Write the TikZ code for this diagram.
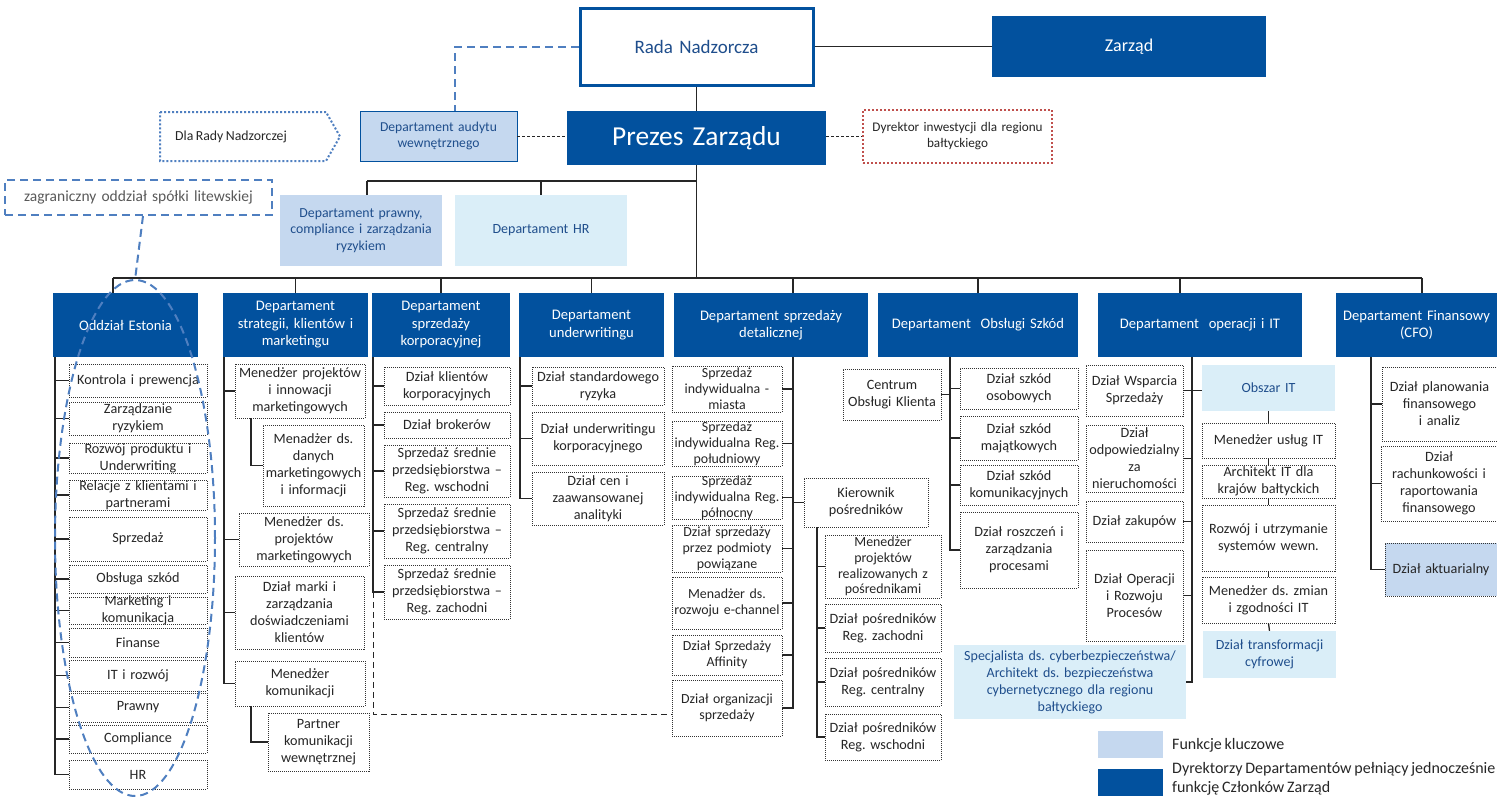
\documentclass[tikz,border=0pt]{standalone}
\usepackage{fontspec}
\setmainfont{Carlito}[WordSpace=0.78]
\frenchspacing
\definecolor{dblue}{HTML}{02519E}
\definecolor{kblue}{HTML}{C5D8EF}
\definecolor{cblue}{HTML}{DAEEF8}
\definecolor{tblue}{HTML}{1F4E8C}
\definecolor{dashblue}{HTML}{4F7FC0}
\definecolor{dotred}{HTML}{C0504D}
\newcommand\bx[7]{%
 \pgfmathsetmacro\bxw{#5-#3}\pgfmathsetmacro\bxh{#6-#4}%
 \pgfmathsetmacro\bxx{(#3+#5)/2}\pgfmathsetmacro\bxy{(#4+#6)/2}%
 \pgfmathsetmacro\bxt{#5-#3-2}%
 \node[#1, minimum width=\bxw pt, minimum height=\bxh pt] (#2) at (\bxx,\bxy) {};
 \node[#1, draw=none, fill=none, text width=\bxt pt] (#2t) at (#2.center) {#7};}
\tikzset{
 base/.style={inner sep=0pt, align=center},
 dept/.style={base, fill=dblue, text=white, font=\fontsize{14.6}{17.5}\selectfont},
 subbox/.style={base, draw=black!80, line width=0.9pt, dash pattern=on 1pt off 1pt, fill=white, text=black!85, font=\fontsize{14.2}{17}\selectfont},
 subsm/.style={subbox, font=\fontsize{13.9}{15.8}\selectfont},
 keybox/.style={base, fill=kblue, text=tblue, font=\fontsize{13.8}{16.5}\selectfont},
 cyanbox/.style={base, fill=cblue, text=tblue, font=\fontsize{14}{17}\selectfont},
 conn/.style={draw=black!85, line width=1.3pt},
 blkdash/.style={draw=black!85, line width=1pt, dash pattern=on 3pt off 2pt},
 bluedash/.style={draw=dashblue, line width=2pt, dash pattern=on 8pt off 5pt},
 bluedot/.style={draw=dashblue, line width=2pt, dash pattern=on 2pt off 2pt},
 reddot/.style={draw=dotred, line width=2pt, dash pattern=on 2pt off 2pt},
}
\begin{document}
\begin{tikzpicture}[x=1pt,y=-1pt]
\useasboundingbox (0,0) rectangle (1497,796);
% ---------- top ----------
\bx{base, draw=dblue, line width=3pt, fill=white, text=tblue, font=\fontsize{19}{22}\selectfont}{rada}{580}{8}{813}{85}{Rada Nadzorcza}
\bx{dept, font=\fontsize{18}{21}\selectfont}{zarzad}{992}{16}{1266}{77}{Zarząd}
\bx{dept, font=\fontsize{27.4}{32}\selectfont}{prezes}{567}{111}{826}{165}{Prezes Zarządu}
\bx{keybox, draw=dblue, line width=0.9pt, font=\fontsize{13.6}{16.5}\selectfont}{audyt}{360}{111}{517}{161}{Departament audytu\\wewnętrznego}
\bx{base, reddot, fill=white, text=black!85, font=\fontsize{13.2}{16}\selectfont}{dyr}{863}{110}{1052}{163}{Dyrektor inwestycji dla regionu\\bałtyckiego}
\bx{keybox}{prawny}{280}{195}{442}{266}{Departament prawny,\\compliance i zarządzania\\ryzykiem}
\bx{cyanbox}{hr}{455}{195}{627}{266}{Departament HR}
\bx{base, bluedash, text=black!65, font=\fontsize{15.5}{18}\selectfont}{zagr}{5}{180}{272}{215}{zagraniczny oddział spółki litewskiej}
\draw[bluedot] (160,112) -- (326,112) -- (340,136.5) -- (326,161) -- (160,161) -- cycle;
\node[inner sep=0pt, text=black!85, font=\fontsize{13.8}{16}\selectfont] (dla) at (231,136.5) {Dla Rady Nadzorczej};
% ---------- departments ----------
\bx{dept}{oe}{53}{293}{198}{357}{Oddział Estonia}
\bx{dept}{st}{223}{293}{368}{357}{Departament\\strategii, klientów i\\marketingu}
\bx{dept}{ko}{372}{293}{510}{357}{Departament\\sprzedaży\\korporacyjnej}
\bx{dept}{un}{519}{293}{664}{357}{Departament\\underwritingu}
\bx{dept}{de}{674}{293}{868}{357}{Departament sprzedaży\\detalicznej}
\bx{dept}{os}{878}{293}{1078}{357}{Departament~~Obsługi Szkód}
\bx{dept}{op}{1098}{293}{1302}{357}{Departament~~operacji i IT}
\bx{dept}{fi}{1336}{293}{1497}{357}{Departament Finansowy\\(CFO)}
% ---------- Oddzial Estonia ----------
\bx{subbox}{e1}{69}{364}{207}{397}{Kontrola i prewencja}
\bx{subbox}{e2}{69}{402}{207}{435}{Zarządzanie\\ryzykiem}
\bx{subbox}{e3}{69}{443}{207}{473}{Rozwój produktu i\\Underwriting}
\bx{subbox}{e4}{69}{480}{207}{510}{Relacje z klientami i\\partnerami}
\bx{subbox}{e5}{69}{517}{207}{561}{Sprzedaż}
\bx{subbox}{e6}{69}{565}{207}{593}{Obsługa szkód}
\bx{subbox}{e7}{69}{597}{207}{624}{Marketing i\\komunikacja}
\bx{subbox}{e8}{69}{628}{207}{657}{Finanse}
\bx{subbox}{e9}{69}{660}{207}{691}{IT i rozwój}
\bx{subbox}{e10}{69}{693}{207}{722}{Prawny}
\bx{subbox}{e11}{69}{725}{207}{753}{Compliance}
\bx{subbox}{e12}{69}{760}{207}{789}{HR}
% ---------- strategii ----------
\bx{subbox}{s1}{235}{364}{365}{418}{Menedżer projektów\\i innowacji\\marketingowych}
\bx{subbox}{s2}{263}{425}{364}{506}{Menadżer ds.\\danych\\marketingowych\\i informacji}
\bx{subbox}{s3}{239}{513}{369}{566}{Menedżer ds.\\projektów\\marketingowych}
\bx{subbox}{s4}{235}{576}{364}{649}{Dział marki i\\zarządzania\\doświadczeniami\\klientów}
\bx{subbox}{s5}{235}{661}{365}{706}{Menedżer\\komunikacji}
\bx{subbox}{s6}{268}{713}{369}{771}{Partner\\komunikacji\\wewnętrznej}
% ---------- korporacyjnej ----------
\bx{subbox}{k1}{384}{367}{510}{405}{Dział klientów\\korporacyjnych}
\bx{subbox}{k2}{384}{412}{510}{438}{Dział brokerów}
\bx{subbox}{k3}{384}{445}{510}{497}{Sprzedaż średnie\\przedsiębiorstwa –\\Reg. wschodni}
\bx{subbox}{k4}{384}{504}{510}{558}{Sprzedaż średnie\\przedsiębiorstwa –\\Reg. centralny}
\bx{subbox}{k5}{384}{565}{510}{619}{Sprzedaż średnie\\przedsiębiorstwa –\\Reg. zachodni}
% ---------- underwriting ----------
\bx{subbox}{u1}{532}{367}{664}{405}{Dział standardowego\\ryzyka}
\bx{subbox}{u2}{532}{412}{664}{465}{Dział underwritingu\\korporacyjnego}
\bx{subbox}{u3}{532}{472}{664}{525}{Dział cen i\\zaawansowanej\\analityki}
% ---------- detalicznej ----------
\bx{subsm}{d1}{672}{366}{782}{412}{Sprzedaż\\indywidualna -\\miasta}
\bx{subsm}{d2}{672}{421}{782}{466}{Sprzedaż\\indywidualna Reg.\\południowy}
\bx{subsm}{d3}{672}{476}{782}{519}{Sprzedaż\\indywidualna Reg.\\północny}
\bx{subsm}{d4}{672}{525}{782}{572}{Dział sprzedaży\\przez podmioty\\powiązane}
\bx{subsm}{d5}{672}{577}{782}{629}{Menadżer ds.\\rozwoju e-channel}
\bx{subsm}{d6}{672}{635}{782}{675}{Dział Sprzedaży\\Affinity}
\bx{subsm}{d7}{672}{680}{782}{736}{Dział organizacji\\sprzedaży}
\bx{subbox}{kp}{804}{478}{928}{527}{Kierownik\\pośredników}
\bx{subsm}{p1}{825}{535}{941}{598}{Menedżer\\projektów\\realizowanych z\\pośrednikami}
\bx{subbox}{p2}{825}{604}{941}{652}{Dział pośredników\\Reg. zachodni}
\bx{subbox}{p3}{825}{658}{941}{706}{Dział pośredników\\Reg. centralny}
\bx{subbox}{p4}{825}{714}{941}{760}{Dział pośredników\\Reg. wschodni}
% ---------- obslugi szkod ----------
\bx{subbox}{cok}{843}{369}{941}{420}{Centrum\\Obsługi Klienta}
\bx{subbox}{o1}{960}{368}{1078}{409}{Dział szkód\\osobowych}
\bx{subbox}{o2}{960}{416}{1078}{460}{Dział szkód\\majątkowych}
\bx{subbox}{o3}{960}{465}{1078}{505}{Dział szkód\\komunikacyjnych}
\bx{subbox}{o4}{960}{512}{1078}{588}{Dział roszczeń i\\zarządzania\\procesami}
% ---------- operacji i IT ----------
\bx{subbox}{w1}{1086}{365}{1183}{416}{Dział Wsparcia\\Sprzedaży}
\bx{subbox}{w2}{1086}{425}{1183}{492}{Dział\\odpowiedzialny\\za\\nieruchomości}
\bx{subbox}{w3}{1086}{501}{1183}{542}{Dział zakupów}
\bx{subbox}{w4}{1086}{550}{1183}{641}{Dział Operacji\\i Rozwoju\\Procesów}
\bx{cyanbox}{spec}{954}{645}{1186}{719}{Specjalista ds. cyberbezpieczeństwa/\\Architekt ds. bezpieczeństwa\\cybernetycznego dla regionu\\bałtyckiego}
\bx{cyanbox}{ob}{1202}{365}{1335}{411}{Obszar IT}
\bx{subbox}{i1}{1202}{423}{1335}{458}{Menedżer usług IT}
\bx{subbox}{i2}{1202}{465}{1335}{498}{Architekt IT dla\\krajów bałtyckich}
\bx{subbox}{i3}{1202}{505}{1335}{571}{Rozwój i utrzymanie\\systemów wewn.}
\bx{subbox}{i4}{1202}{577}{1335}{623}{Menedżer ds. zmian\\i zgodności IT}
\bx{cyanbox}{dt}{1203}{631}{1336}{678}{Dział transformacji\\cyfrowej}
% ---------- finansowy ----------
\bx{subbox}{f1}{1382}{367}{1497}{441}{Dział planowania\\finansowego\\i analiz}
\bx{subbox}{f2}{1381}{446}{1497}{521}{Dział\\rachunkowości i\\raportowania\\finansowego}
\bx{subbox, fill=kblue}{f3}{1385}{543}{1497}{596}{Dział aktuarialny}
% ---------- legend ----------
\bx{base, fill=kblue}{lg1}{1098}{731}{1163}{758}{}
\bx{base, fill=dblue}{lg2}{1098}{769}{1163}{796}{}
\node[anchor=west, inner sep=0pt, text=black!85, font=\fontsize{16}{19}\selectfont] (lt1) at (1172,745) {Funkcje kluczowe};
\node[anchor=west, inner sep=0pt, align=left, text=black!85, font=\fontsize{16}{19}\selectfont] (lt2) at (1172,779) {Dyrektorzy Departamentów pełniący jednocześnie\\funkcję Członków Zarząd};
% ---------- connectors: top ----------
\coordinate (busL) at (113,278);
\coordinate (busR) at (1422,278);
\coordinate (br) at (697,181);
\draw[conn] (rada.east) -- (zarzad.west);
\draw[conn] (rada.south) -- (prezes.north);
\draw[conn] (prezes.south) -- (prezes.south |- busL);
\draw[conn] (busL) -- (busR);
\draw[conn] (367,181) -- (br);
\draw[conn] (prawny.north -| 367,0) -- (367,181);
\draw[conn] (hr.north) -- (hr.north |- br);
\draw[blkdash] (audyt.east) -- (audyt.east -| prezes.west);
\draw[blkdash] (dyr.west -| prezes.east) -- (dyr.west);
\draw[bluedash] (rada.west) -| ([xshift=16.5pt]audyt.north);
% department drops
\draw[conn] (busL) -- (busL |- oe.north);
\draw[conn] (st.north) -- (st.north |- busL);
\draw[conn] (ko.north) -- (ko.north |- busL);
\draw[conn] (un.north) -- (un.north |- busL);
\draw[conn] ([xshift=22pt]de.north) -- ([xshift=22pt]de.north |- busL);
\draw[conn] (os.north) -- (os.north |- busL);
\draw[conn] ([xshift=-20pt]op.north) -- ([xshift=-20pt]op.north |- busL);
\draw[conn] (busR) -- (busR |- fi.north);
% ---------- column spines ----------
\coordinate (eS) at (55,357);
\foreach \n in {e1,e2,e3,e4,e5,e6,e7,e8,e9,e10,e11,e12} \draw[conn] (eS) |- (\n.west);
\coordinate (sS) at (224,357);
\foreach \n in {s1,s3,s4,s5} \draw[conn] (sS) |- (\n.west);
\draw[conn] ([xshift=-49pt]s1.south) |- (s2.west);
\draw[conn] ([xshift=-49pt]s5.south) |- (s6.west);
\coordinate (kS) at (373,357);
\foreach \n in {k1,k2,k3,k4,k5} \draw[conn] (kS) |- (\n.west);
\draw[blkdash, dash pattern=on 6pt off 4pt] (k5.west -| kS) |- ([yshift=-6pt]d7.west);
\coordinate (uS) at (520,357);
\foreach \n in {u1,u2,u3} \draw[conn] (uS) |- (\n.west);
\coordinate (dS) at (793,357);
\foreach \n in {d1,d2,d3,d4,d5,d6,d7} \draw[conn] (dS) |- (\n.east);
\draw[conn] (dS) |- (kp.west);
\draw[conn] ([xshift=-49pt]kp.south) |- (p4.west);
\foreach \n in {p1,p2,p3} \draw[conn] ([xshift=-49pt]kp.south) |- (\n.west);
\coordinate (oS) at (950,357);
\foreach \n in {o1,o2,o3,o4} \draw[conn] (oS) |- (\n.west);
\draw[conn] (cok.east) -- (cok.east -| oS);
\coordinate (wS) at (1192,357);
\foreach \n in {w1,w2,w3,w4,spec} \draw[conn] (wS) |- (\n.east);
\draw[conn] (w1.east -| wS) -- (w1.east -| ob.west);
\draw[conn] (ob.south) -- (i1.north);
\draw[conn] (i1.south) -- (i2.north);
\draw[conn] (i2.south) -- (i3.north);
\draw[conn] (i3.south) -- (i4.north);
\draw[conn] (i4.south) -- (dt.north);
\coordinate (fS) at (1371,357);
\foreach \n in {f1,f2,f3} \draw[conn] (fS) |- (\n.west);
% ---------- branch ellipse ----------
\coordinate (elTop) at (135,280);
\draw[bluedash] ([xshift=4.5pt]zagr.south) -- (elTop);
\draw[bluedash] (135,538) ellipse [x radius=80pt, y radius=258pt];
\end{tikzpicture}
\end{document}
